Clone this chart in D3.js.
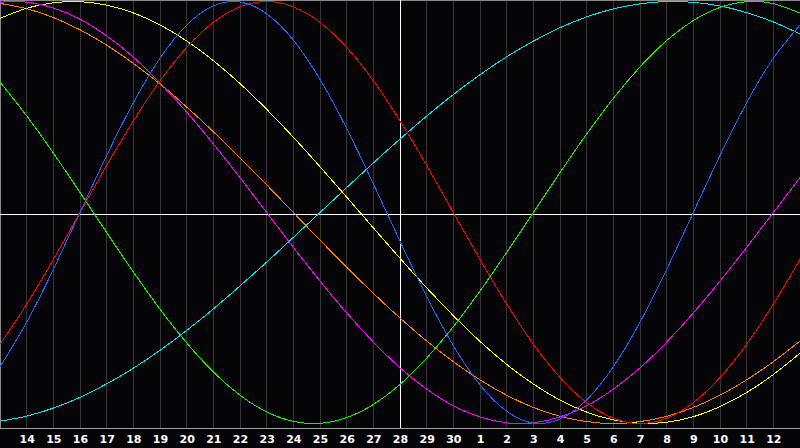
<!DOCTYPE html>
<html>
<head>
<meta charset="utf-8">
<script src="https://cdn.jsdelivr.net/npm/d3@7"></script>
<style>
  html, body { margin: 0; padding: 0; background: #050508; overflow: hidden; }
  svg { display: block; }
</style>
</head>
<body>
<svg id="chart" width="800" height="448"></svg>
<script>
// Day index 0..30 (day 13 of the month .. day 13 of the next month)
const dayIndex = d3.range(0, 31);
const tickIndex = d3.range(1, 30);
const tickLabels = ["14","15","16","17","18","19","20","21","22","23","24","25","26","27","28","29","30",
                    "1","2","3","4","5","6","7","8","9","10","11","12"];
const todayIndex = 15;

const physical = [-0.731,-0.520,-0.270,0,0.270,0.520,0.731,0.888,0.979,0.998,0.942,0.817,0.631,0.398,0.136,-0.136,-0.398,-0.631,-0.817,-0.942,-0.998,-0.979,-0.888,-0.731,-0.520,-0.270,0,0.270,0.520,0.731,0.888];
const emotional = [-0.624,-0.434,-0.223,0,0.223,0.434,0.624,0.782,0.901,0.975,1,0.975,0.901,0.782,0.624,0.434,0.223,0,-0.223,-0.434,-0.624,-0.782,-0.901,-0.975,-1,-0.975,-0.901,-0.782,-0.624,-0.434,-0.223];
const intellectual = [0.618,0.458,0.282,0.095,-0.095,-0.282,-0.458,-0.618,-0.756,-0.866,-0.945,-0.990,-0.999,-0.972,-0.910,-0.815,-0.690,-0.541,-0.372,-0.189,0,0.189,0.372,0.541,0.690,0.815,0.910,0.972,0.999,0.990,0.945];
const intuitive = [0.997,0.997,0.969,0.916,0.837,0.736,0.614,0.476,0.325,0.165,0,-0.165,-0.325,-0.476,-0.614,-0.736,-0.837,-0.916,-0.969,-0.997,-0.997,-0.969,-0.916,-0.837,-0.736,-0.614,-0.476,-0.325,-0.165,0,0.165];
const aesthetic = [0.920,0.968,0.994,0.999,0.983,0.946,0.889,0.813,0.720,0.611,0.489,0.357,0.217,0.073,-0.073,-0.217,-0.357,-0.489,-0.611,-0.720,-0.813,-0.889,-0.946,-0.983,-0.999,-0.994,-0.968,-0.920,-0.853,-0.768,-0.667];
const awareness = [0.991,0.966,0.924,0.866,0.793,0.707,0.609,0.5,0.383,0.259,0.131,0,-0.131,-0.259,-0.383,-0.5,-0.609,-0.707,-0.793,-0.866,-0.924,-0.966,-0.991,-1,-0.991,-0.966,-0.924,-0.866,-0.793,-0.707,-0.609];
const spiritual = [-0.989,-0.965,-0.927,-0.876,-0.812,-0.738,-0.653,-0.559,-0.457,-0.348,-0.235,-0.118,0,0.118,0.235,0.348,0.457,0.559,0.653,0.738,0.812,0.876,0.927,0.965,0.989,1.000,0.996,0.979,0.947,0.903,0.846];

const seriesNames = ["spiritual","awareness","aesthetic","intuitive","intellectual","emotional","physical"];
const seriesValues = [spiritual, awareness, aesthetic, intuitive, intellectual, emotional, physical];
const seriesColors = ["#00e8f0","#ff8000","#ffff00","#ff00ff","#22ee00","#ff0000","#1a66ff"];

const W = 800, H = 448, plotBottom = 428;
const svg = d3.select("#chart");

svg.append("rect").attr("width", W).attr("height", H).attr("fill", "#050508");

const x = d3.scaleLinear().domain([0, 30]).range([0, W]);
const y = d3.scaleLinear().domain([-1, 1]).range([423.5, 1.5]);

// vertical day grid
svg.append("g").selectAll("line").data(tickIndex.filter(d => d !== todayIndex)).join("line")
  .attr("x1", d => Math.floor(x(d)) + 0.5).attr("x2", d => Math.floor(x(d)) + 0.5)
  .attr("y1", 0).attr("y2", plotBottom)
  .attr("stroke", "#353535").attr("stroke-width", 1);

// borders
svg.append("line").attr("x1", 0).attr("x2", W).attr("y1", 0.5).attr("y2", 0.5).attr("stroke", "#8a8a8a");
svg.append("line").attr("x1", 0.5).attr("x2", 0.5).attr("y1", 0).attr("y2", plotBottom).attr("stroke", "#8a8a8a");
svg.append("line").attr("x1", 0).attr("x2", W).attr("y1", plotBottom + 0.5).attr("y2", plotBottom + 0.5).attr("stroke", "#a0a0a0");

// today line and zero line
svg.append("line").attr("x1", Math.floor(x(todayIndex)) + 0.5).attr("x2", Math.floor(x(todayIndex)) + 0.5)
  .attr("y1", 0).attr("y2", plotBottom).attr("stroke", "#ffffff");
svg.append("line").attr("x1", 0).attr("x2", W).attr("y1", 214.5).attr("y2", 214.5).attr("stroke", "#ffffff");

// curves
const line = d3.line().x((d, i) => x(dayIndex[i])).y(d => y(d)).curve(d3.curveNatural);
svg.append("g").selectAll("path").data(seriesValues).join("path")
  .attr("d", d => line(d))
  .attr("fill", "none")
  .attr("stroke", (d, i) => seriesColors[i])
  .attr("stroke-width", 1)
  .attr("shape-rendering", "crispEdges");

// day labels
svg.append("g").selectAll("text").data(tickIndex).join("text")
  .attr("x", d => x(d) + 0.5)
  .attr("y", 443)
  .attr("text-anchor", "middle")
  .attr("fill", "#ffffff")
  .attr("font-family", "'DejaVu Sans', sans-serif")
  .attr("font-weight", "bold")
  .attr("font-size", 11)
  .text((d, i) => tickLabels[i]);
</script>
</body>
</html>
